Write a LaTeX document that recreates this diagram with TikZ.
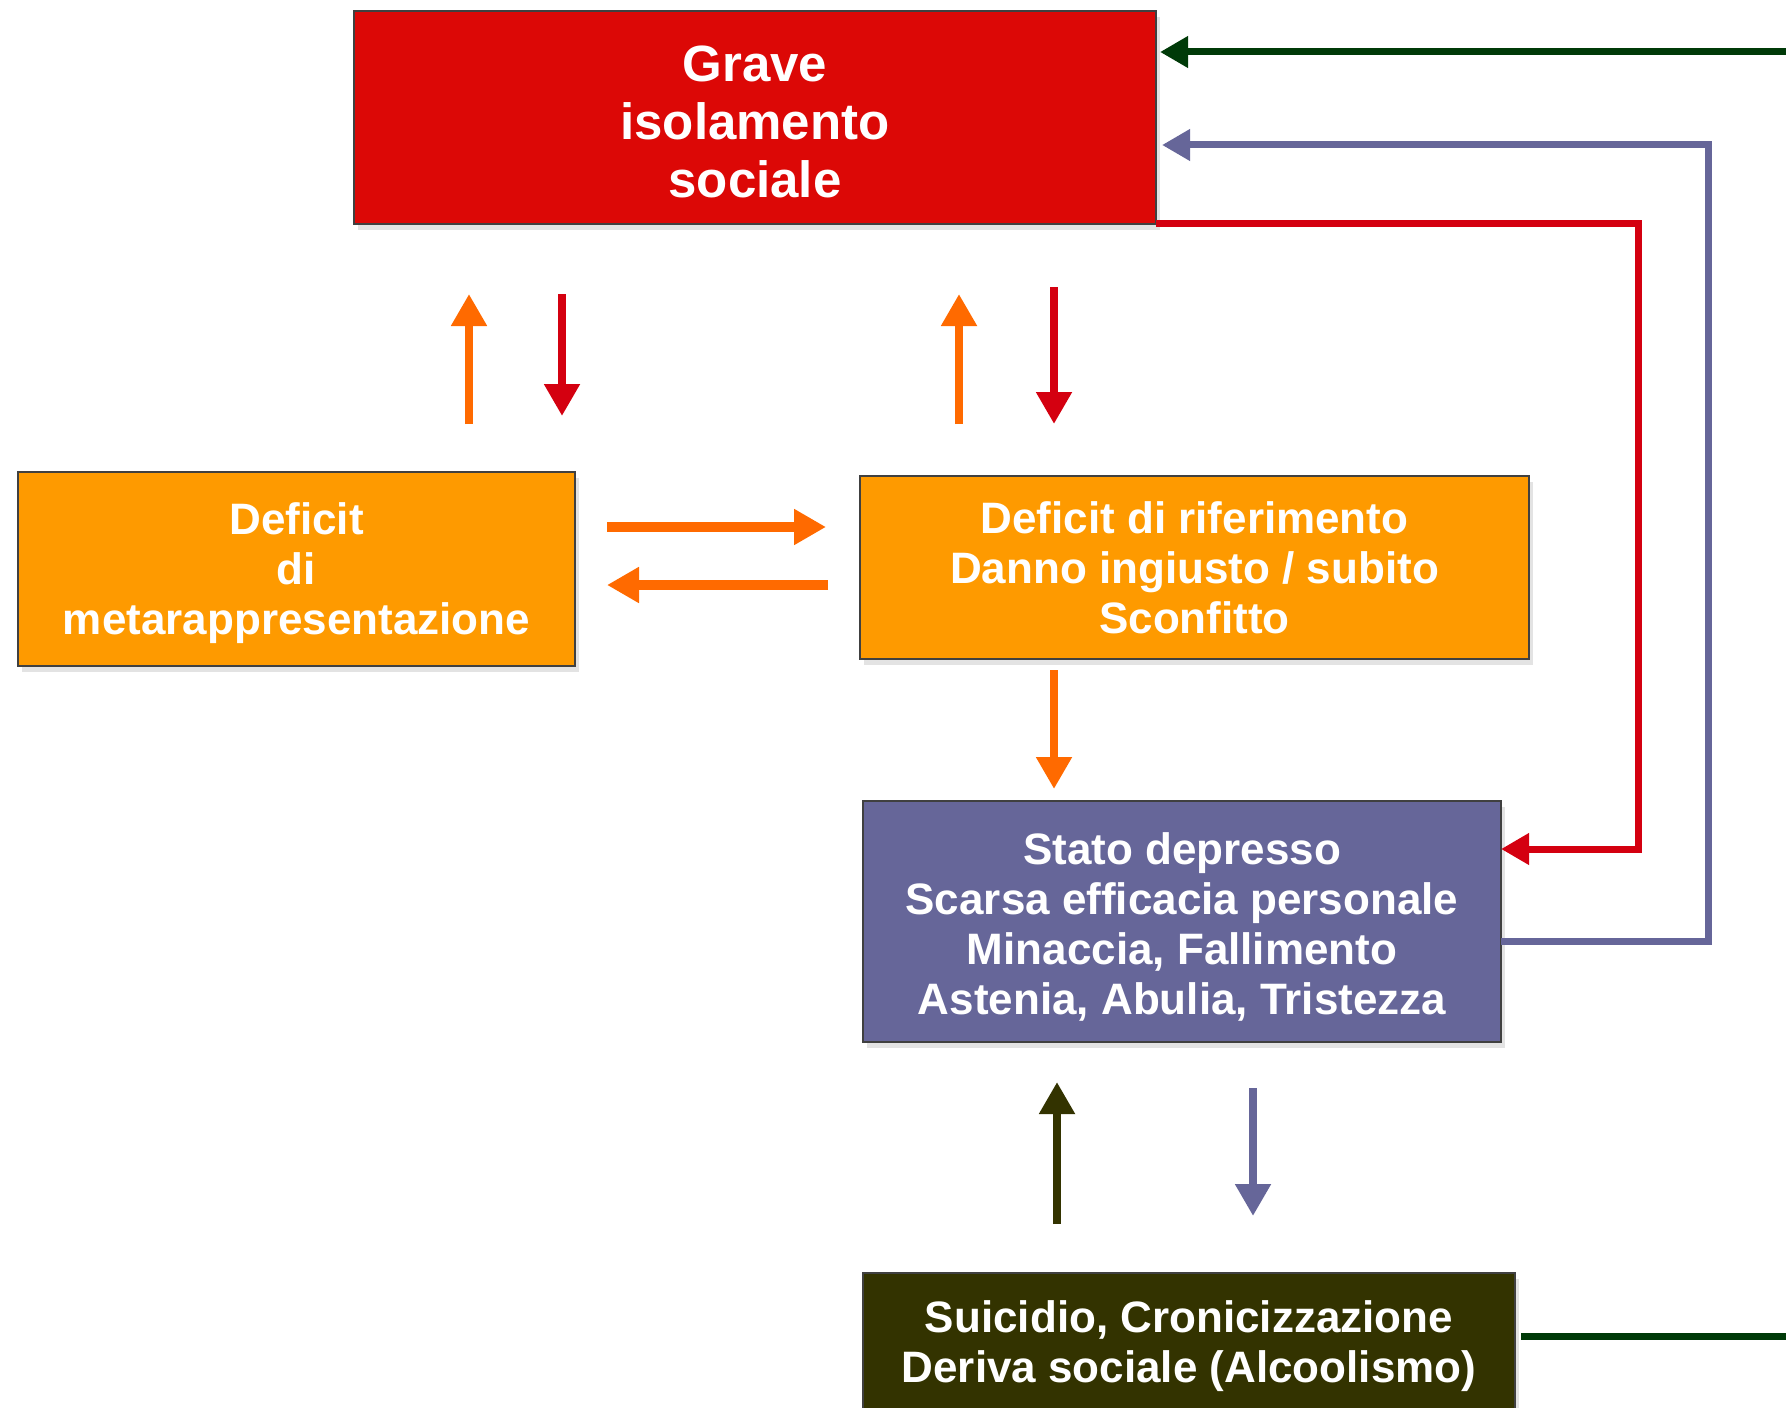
\documentclass[tikz,border=0pt]{standalone}
\usepackage{fontspec}
\setmainfont{Liberation Sans}
\usetikzlibrary{arrows.meta,shadows,calc}
\definecolor{cred}{HTML}{DC0806}
\definecolor{corange}{HTML}{FE9A00}
\definecolor{cpurple}{HTML}{666699}
\definecolor{colive}{HTML}{333300}
\definecolor{carrorange}{HTML}{FF6A00}
\definecolor{carrred}{HTML}{D40010}
\definecolor{cgreen}{HTML}{003A08}
\begin{document}
\begin{tikzpicture}[x=0.5pt,y=-0.5pt,
  box/.style={draw=black!75, line width=0.8pt, inner sep=0pt, outer sep=0pt, align=center,
    text=white, font=\bfseries\fontsize{22}{25}\selectfont,
    drop shadow={shadow xshift=2pt, shadow yshift=-3pt, opacity=0.22}},
  arr/.style={line width=4pt, -{Triangle[width=17pt,length=16pt]}},
  fb/.style={line width=3.5pt, line join=miter, -{Triangle[width=15pt,length=14pt]}}
]
\useasboundingbox (0,0) rectangle (1786,1407);
\clip (0,0) rectangle (1786,1407);
\fill[white] (0,0) rectangle (1786,1407);

\node[box, fill=cred, font=\bfseries\fontsize{25.5}{29}\selectfont,
  minimum width=401pt, minimum height=106.5pt] (grave) at (755,117.5) {\rule{0pt}{22pt}Grave\\isolamento\\sociale};
\node[box, fill=corange, minimum width=278.5pt, minimum height=97pt] (meta) at (296.5,569)
  {\rule{0pt}{20pt}Deficit\\di\\metarappresentazione};
\node[box, fill=corange, minimum width=334.5pt, minimum height=91.5pt] (rif) at (1194.5,567.5)
  {Deficit di riferimento\\Danno ingiusto / subito\\Sconfitto};
\node[box, fill=cpurple, minimum width=319pt, minimum height=120.5pt] (stato) at (1182,921.5)
  {\rule{0pt}{21pt}Stato depresso\\Scarsa efficacia personale\\Minaccia, Fallimento\\Astenia, Abulia, Tristezza};
\node[box, fill=colive, minimum width=326pt, minimum height=73.5pt, anchor=north] (suic) at (1189,1273)
  {Suicidio, Cronicizzazione\\Deriva sociale (Alcoolismo)};

% column / row coordinates
\coordinate (c1) at (469,0);
\coordinate (c2) at (562,0);
\coordinate (c3) at (959,0);
\coordinate (c4) at (1054,0);
\coordinate (c5) at (1057,0);
\coordinate (c6) at (1253,0);
\coordinate (r1) at (0,527);
\coordinate (r2) at (0,585);
\coordinate (rr) at (1638,0);
\coordinate (pp) at (1708,0);
\coordinate (gg) at (1830,0);
\coordinate (gy) at (0,52);
\coordinate (py) at (0,145);
\coordinate (ry) at (0,849);
\coordinate (sy) at (0,941);
\coordinate (ey) at (0,1336);

% vertical arrows between Grave and the deficits
\draw[arr, carrorange, shorten <=24pt, shorten >=35pt] (c1 |- meta.north) -- (c1 |- grave.south);
\draw[arr, carrred, shorten <=35pt, shorten >=28pt] (c2 |- grave.south) -- (c2 |- meta.north);
\draw[arr, carrorange, shorten <=26pt, shorten >=35pt] (c3 |- rif.north) -- (c3 |- grave.south);
\draw[arr, carrred, shorten <=31.5pt, shorten >=26pt] (c4 |- grave.south) -- (c4 |- rif.north);

% horizontal arrows between deficits
\draw[arr, carrorange, line width=5pt, shorten <=16pt, shorten >=17pt] (meta.east |- r1) -- (rif.west |- r1);
\draw[arr, carrorange, line width=5pt, shorten <=16pt, shorten >=16pt] (rif.west |- r2) -- (meta.east |- r2);

% rif -> stato
\draw[arr, carrorange, shorten <=5.5pt, shorten >=6pt] (c4 |- rif.south) -- (c4 |- stato.north);

% stato <-> suicidio
\draw[arr, colive, shorten <=24.5pt, shorten >=20pt] (c5 |- suic.north) -- (c5 |- stato.south);
\draw[arr, cpurple, shorten <=23pt, shorten >=28.5pt] (c6 |- stato.south) -- (c6 |- suic.north);

% feedback loops
\draw[fb, carrred] (grave.south east) -- (rr |- grave.south east) -- (rr |- ry) -- (stato.east |- ry);
\draw[fb, cpurple, shorten >=3pt] (stato.east |- sy) -- (pp |- sy) -- (pp |- py) -- (grave.east |- py);
\draw[fb, cgreen, shorten <=3pt, shorten >=2pt] (suic.east |- ey) -- (gg |- ey) -- (gg |- gy) -- (grave.east |- gy);
\end{tikzpicture}
\end{document}
